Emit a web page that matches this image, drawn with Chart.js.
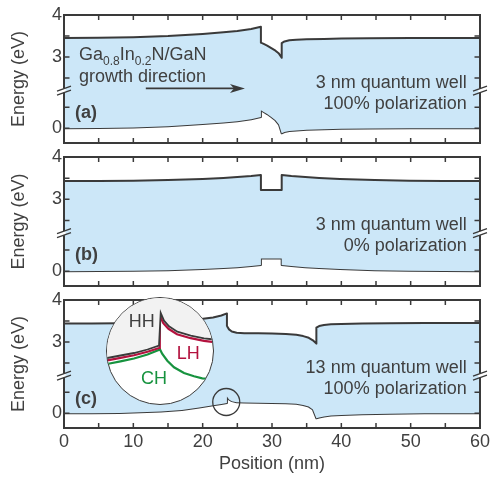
<!DOCTYPE html>
<html>
<head>
<meta charset="utf-8">
<script src="https://cdn.jsdelivr.net/npm/chart.js@4.4.1/dist/chart.umd.min.js"></script>
<style>
html, body { margin: 0; padding: 0; background: #fff; }
#wrap { position: relative; width: 490px; height: 479px; overflow: hidden;
        font-family: 'Liberation Sans', Arial, sans-serif; color: #404040; }
canvas.panel { position: absolute; left: 0; }
.lbl { position: absolute; font-size: 18px; line-height: 18px; white-space: nowrap; }
.lbl sub { font-size: 12px; vertical-align: -5px; line-height: 18px; }
.r { right: 23.3px; text-align: right; }
.b { font-weight: bold; }
.c { width: 40px; text-align: center; }
#lens { position: absolute; left: 106px; top: 297px; width: 108px; height: 108px;
        box-sizing: border-box; border: 1.5px solid #3a3a3a; border-radius: 50%;
        overflow: hidden; background: #fff; }
#lens canvas { display: block; }
</style>
</head>
<body>
<div id="wrap">
  <canvas class="panel" id="chartA" width="490" height="150" style="top:0px"></canvas>
  <canvas class="panel" id="chartB" width="490" height="150" style="top:143px"></canvas>
  <canvas class="panel" id="chartC" width="490" height="193" style="top:286px"></canvas>

  <div class="lbl" style="left:79px;top:45px">Ga<sub>0.8</sub>In<sub>0.2</sub>N/GaN</div>
  <div class="lbl" style="left:79px;top:66.5px">growth direction</div>
  <div class="lbl b" style="left:75px;top:103px">(a)</div>
  <div class="lbl r" style="top:72.8px">3 nm quantum well</div>
  <div class="lbl r" style="top:93.8px">100% polarization</div>

  <div class="lbl b" style="left:75px;top:244.8px">(b)</div>
  <div class="lbl r" style="top:214.8px">3 nm quantum well</div>
  <div class="lbl r" style="top:235.8px">0% polarization</div>

  <div class="lbl b" style="left:75px;top:388.8px">(c)</div>
  <div class="lbl r" style="top:357.8px">13 nm quantum well</div>
  <div class="lbl r" style="top:378.8px">100% polarization</div>

  <div id="lens"><canvas id="lensChart" width="105" height="105"></canvas></div>
  <div class="lbl c" style="left:121.7px;top:311.8px;color:#404040">HH</div>
  <div class="lbl c" style="left:168.3px;top:344.3px;color:#b3123e">LH</div>
  <div class="lbl c" style="left:134px;top:369px;color:#17933f">CH</div>
</div>

<script>
// broken energy axis: values above the break are shifted down by GAP
const GAP = 1.3;
const BREAK = 0.9;
const toDisp = e => (e > 1.5 ? e - GAP : e);

const xTickVals = [0, 5, 10, 15, 20, 25, 30, 35, 40, 45, 50, 55, 60];
const xTickLabels = ['0', '', '10', '', '20', '', '30', '', '40', '', '50', '', '60'];
const yTickEnergies = [0, 0.5, 2.5, 3, 3.5, 4];
const yTickLabels = ['0', '', '', '3', '', '4'];

// (a) 3 nm well, 100% polarization
const posCbA = [0, 5, 10, 15, 20, 23, 25, 27, 28.4, 28.4, 28.8, 29.3, 29.9, 30.5, 31.0, 31.4, 31.4, 31.8, 32.5, 33.5, 35, 37.5, 40, 44, 50, 60];
const cbA    = [3.45, 3.455, 3.47, 3.5, 3.55, 3.59, 3.62, 3.665, 3.72, 3.34, 3.31, 3.27, 3.21, 3.15, 3.08, 2.98, 3.33, 3.37, 3.40, 3.41, 3.42, 3.43, 3.44, 3.445, 3.45, 3.45];
const posVbA = [0, 5, 10, 15, 20, 23, 25, 27, 28.4, 28.4, 28.8, 29.3, 29.9, 30.5, 31.0, 31.4, 31.8, 32.5, 33.5, 35, 37.5, 40, 44, 50, 60];
const vbA    = [0, 0.005, 0.02, 0.05, 0.1, 0.14, 0.17, 0.215, 0.27, 0.43, 0.39, 0.34, 0.27, 0.19, 0.09, -0.12, -0.09, -0.065, -0.05, -0.035, -0.02, -0.012, -0.005, 0, 0];

// (b) 3 nm well, 0% polarization
const posB = [0, 5, 10, 15, 20, 23, 25, 27, 28.4, 28.4, 31.4, 31.4, 32.8, 34.8, 36.8, 39.8, 44.8, 49.8, 54.8, 60];
const cbB  = [3.43, 3.433, 3.44, 3.455, 3.48, 3.505, 3.525, 3.55, 3.575, 3.22, 3.22, 3.575, 3.55, 3.525, 3.505, 3.48, 3.455, 3.44, 3.433, 3.43];
const vbB  = [0, 0.003, 0.01, 0.025, 0.05, 0.075, 0.095, 0.12, 0.145, 0.30, 0.30, 0.145, 0.12, 0.095, 0.075, 0.05, 0.025, 0.01, 0.003, 0];

// (c) 13 nm well, 100% polarization
const posCbC = [0, 4, 8, 11, 14, 17, 19.5, 21.5, 22.7, 23.5, 23.5, 23.8, 24.2, 24.9, 26, 28, 30, 32, 33.5, 34.5, 35.3, 35.9, 36.4, 36.4, 36.8, 37.5, 38.5, 40, 43, 47, 52, 60];
const cbC    = [3.44, 3.44, 3.445, 3.455, 3.47, 3.5, 3.54, 3.585, 3.63, 3.68, 3.38, 3.30, 3.25, 3.22, 3.21, 3.205, 3.2, 3.19, 3.17, 3.14, 3.10, 3.04, 2.96, 3.34, 3.38, 3.405, 3.42, 3.43, 3.44, 3.445, 3.45, 3.45];
const posVbC = [0, 4, 8, 11, 14, 17, 19.5, 21.5, 22.7, 23.5, 23.5, 23.8, 24.2, 24.9, 26, 28, 30, 32, 33.5, 34.5, 35.3, 35.9, 36.4, 36.8, 37.5, 38.5, 40, 43, 47, 52, 60];
const vbC    = [0, 0, 0.01, 0.025, 0.045, 0.08, 0.14, 0.19, 0.22, 0.245, 0.40, 0.33, 0.29, 0.265, 0.255, 0.25, 0.245, 0.24, 0.225, 0.20, 0.16, 0.09, -0.12, -0.10, -0.075, -0.055, -0.04, -0.025, -0.012, 0, 0];

// magnified view (arbitrary units inside the lens)
const lensHHx = [0, 1.8, 15, 28.5, 42, 53.5, 55.2, 58.5, 63.5, 71.8, 85.2, 98.5, 110];
const lensHH  = [46.2, 46.5, 49, 51.5, 55, 58.8, 91.5, 83.8, 78.2, 72.8, 68.8, 66.2, 64.8];
const lensLHx = [0, 1.8, 15, 28.5, 42, 53.5, 54.3, 57.8, 63, 71.5, 85.2, 98.5, 110];
const lensLH  = [44, 44.2, 46.7, 49.2, 52.7, 56.5, 89, 81.3, 75.7, 70.3, 66.3, 63.7, 62.3];
const lensCHx = [0, 1.5, 15, 28.5, 42, 54.5, 56.8, 61.8, 68.5, 78.5, 88.5, 96.8, 110];
const lensCH  = [40, 40.5, 43.2, 46, 50, 55, 50.5, 43.8, 37.2, 31.5, 28.2, 26.2, 25];

const ink = '#3a3a3a';
const textCol = '#404040';
const bandFill = '#cce7f8';

Chart.defaults.font.family = "'Liberation Sans', Arial, sans-serif";
Chart.defaults.font.size = 18;
Chart.defaults.color = textCol;

const pts = (xs, ys, f) => xs.map((x, i) => ({ x: x, y: f ? f(ys[i]) : ys[i] }));

const frame = {
  id: 'frame',
  afterDraw(chart, args, o) {
    const { ctx, chartArea: a } = chart;
    const x = chart.scales.x, y = chart.scales.y;
    ctx.save();
    ctx.strokeStyle = ink;
    ctx.lineWidth = 2;
    ctx.strokeRect(a.left, a.top, a.right - a.left, a.bottom - a.top);

    // inward ticks on all four sides
    ctx.lineWidth = 1.5;
    ctx.beginPath();
    xTickVals.forEach(v => {
      const px = x.getPixelForValue(v);
      ctx.moveTo(px, a.bottom); ctx.lineTo(px, a.bottom - 5);
      ctx.moveTo(px, a.top); ctx.lineTo(px, a.top + 5);
    });
    yTickEnergies.forEach(e => {
      const py = y.getPixelForValue(toDisp(e));
      ctx.moveTo(a.left, py); ctx.lineTo(a.left + 5.5, py);
      ctx.moveTo(a.right, py); ctx.lineTo(a.right - 5.5, py);
    });
    ctx.stroke();

    // axis break marks
    const by = y.getPixelForValue(BREAK);
    ctx.lineWidth = 1.3;
    [a.left, a.right].forEach(bx => {
      ctx.fillStyle = '#fff';
      ctx.fillRect(bx - 1.6, by - 2, 3.2, 4);
      ctx.beginPath();
      ctx.moveTo(bx - 7, by + 4.5); ctx.lineTo(bx + 7, by - 0.5);
      ctx.moveTo(bx - 7, by + 0.5); ctx.lineTo(bx + 7, by - 4.5);
      ctx.stroke();
    });

    if (o.arrow) {
      const x1 = x.getPixelForValue(o.arrow.from);
      const x2 = x.getPixelForValue(o.arrow.to);
      const ay = y.getPixelForValue(o.arrow.at);
      ctx.lineWidth = 1.8;
      ctx.beginPath();
      ctx.moveTo(x1, ay); ctx.lineTo(x2 - 10, ay);
      ctx.stroke();
      ctx.fillStyle = ink;
      ctx.beginPath();
      ctx.moveTo(x2, ay); ctx.lineTo(x2 - 15, ay - 4.5);
      ctx.lineTo(x2 - 11, ay); ctx.lineTo(x2 - 15, ay + 4.5);
      ctx.closePath();
      ctx.fill();
    }
    if (o.ring) {
      ctx.lineWidth = 1.3;
      ctx.beginPath();
      ctx.arc(x.getPixelForValue(o.ring.x), y.getPixelForValue(o.ring.y), 13.5, 0, Math.PI * 2);
      ctx.stroke();
    }
    ctx.restore();
  }
};

function panel(id, cbX, cb, vbX, vb, bottom, extra) {
  return new Chart(document.getElementById(id), {
    type: 'line',
    data: {
      datasets: [
        { data: pts(cbX, cb, toDisp), borderColor: ink, borderWidth: 2, fill: '+1', backgroundColor: bandFill },
        { data: pts(vbX, vb, toDisp), borderColor: ink, borderWidth: 2, fill: false }
      ]
    },
    options: {
      responsive: false,
      animation: false,
      events: [],
      layout: { padding: { top: id === 'chartA' ? 15 : 14, right: 10, bottom: bottom ? 0 : 7, left: 0 } },
      elements: { point: { radius: 0 }, line: { tension: 0, borderJoinStyle: 'round' } },
      scales: {
        x: {
          type: 'linear', min: 0, max: 60,
          afterBuildTicks: s => { s.ticks = xTickVals.map(v => ({ value: v })); },
          afterFit: s => { s.height = bottom ? 51 : 0; s.paddingLeft = 0; s.paddingRight = 0; },
          ticks: { display: bottom, autoSkip: false, maxRotation: 0, padding: 3,
                   callback: (v, i) => xTickLabels[i] },
          grid: { display: false, drawTicks: false },
          border: { display: false },
          title: { display: bottom, text: 'Position (nm)', padding: { top: 0, bottom: 4 } }
        },
        y: {
          type: 'linear', min: -0.35, max: 2.7,
          afterBuildTicks: s => { s.ticks = yTickEnergies.map(e => ({ value: toDisp(e) })); },
          // fixed axis width; labels never sit on the plot edges, so no extra padding
          afterFit: s => { s.width = 64; s.paddingTop = 0; s.paddingBottom = 0; },
          ticks: { autoSkip: false, padding: 2, callback: (v, i) => yTickLabels[i] },
          grid: { display: false, drawTicks: false },
          border: { display: false },
          title: { display: true, text: 'Energy (eV)', padding: { top: 8, bottom: 0 } }
        }
      },
      plugins: { legend: { display: false }, tooltip: { enabled: false }, frame: extra || {} }
    },
    plugins: [frame]
  });
}

panel('chartA', posCbA, cbA, posVbA, vbA, false, { arrow: { from: 11.8, to: 26.1, at: 0.95 } });
panel('chartB', posB, cbB, posB, vbB, false);
panel('chartC', posCbC, cbC, posVbC, vbC, true, { ring: { x: 23.4, y: 0.27 } });

new Chart(document.getElementById('lensChart'), {
  type: 'line',
  data: {
    datasets: [
      { data: pts(lensHHx, lensHH), borderColor: ink, borderWidth: 1.8, fill: 'end', backgroundColor: '#f2f2f2' },
      { data: pts(lensLHx, lensLH), borderColor: '#b3123e', borderWidth: 2.2, fill: false },
      { data: pts(lensCHx, lensCH), borderColor: '#17933f', borderWidth: 2.2, fill: false }
    ]
  },
  options: {
    responsive: false,
    animation: false,
    events: [],
    layout: { padding: 0 },
    elements: { point: { radius: 0 }, line: { tension: 0 } },
    scales: {
      x: { type: 'linear', display: false, min: 1.5, max: 106.5 },
      y: { type: 'linear', display: false, min: 1.5, max: 106.5 }
    },
    plugins: { legend: { display: false }, tooltip: { enabled: false } }
  }
});
</script>
</body>
</html>
